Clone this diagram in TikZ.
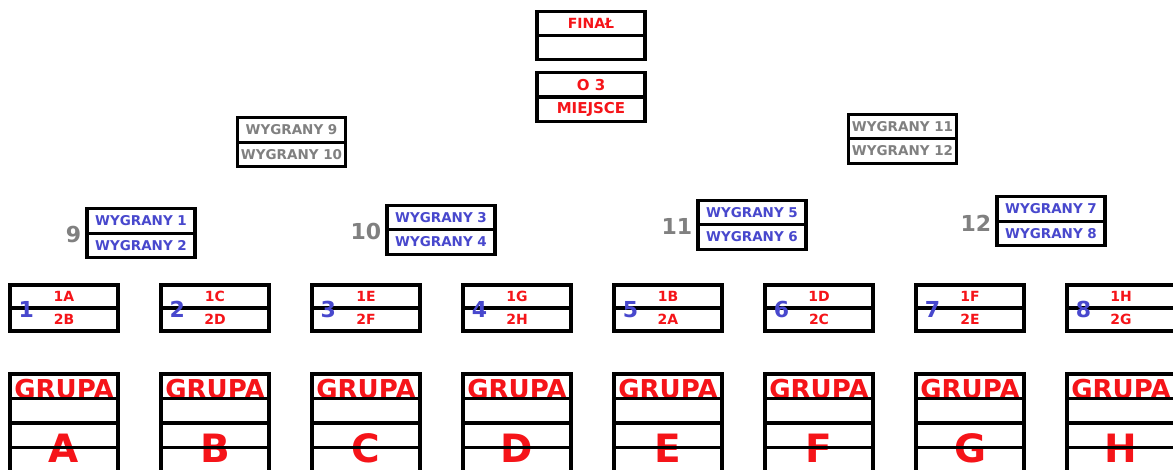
\documentclass[tikz,border=0pt]{standalone}
\usepackage{fontspec}
\setmainfont{DejaVu Sans}
\definecolor{tred}{RGB}{245,20,25}
\definecolor{tblue}{RGB}{72,72,205}
\definecolor{tgray}{RGB}{128,128,128}
\newcommand{\fs}[1]{\bfseries\fontsize{#1}{#1}\selectfont}

\begin{document}
\begin{tikzpicture}[x=1pt, y=-1pt,
  cell/.style={draw, line width=3.2pt, minimum width=108pt, minimum height=24.5pt, inner sep=0pt},
  redtxt/.style={text=tred, font=\fs{14}},
  bluetxt/.style={text=tblue, font=\fs{13.5}},
  graytxt/.style={text=tgray, font=\fs{13.5}},
  numlab/.style={font=\fs{22}, inner sep=0pt}]
  \clip (0,0) rectangle (1173,469);
  \fill[white] (0,0) rectangle (1173,469);

  % final and 3rd place
  \node[cell, redtxt] (fin1) at (591,23.5) {FINAŁ};
  \node[cell] (fin2) at (591,47.5) {};
  \node[cell, redtxt, font=\fs{15}] (third1) at (591,85) {O 3};
  \node[cell, redtxt, font=\fs{15}] (third2) at (591,109) {MIEJSCE};

  % semi finals
  \node[cell, graytxt] (sf1a) at (291.5,130) {WYGRANY 9};
  \node[cell, graytxt] (sf1b) at (291.5,154.5) {WYGRANY 10};
  \node[cell, graytxt] (sf2a) at (902.5,126.5) {WYGRANY 11};
  \node[cell, graytxt] (sf2b) at (902.5,151) {WYGRANY 12};

  % quarter finals
  \foreach \n/\x/\y/\p/\q in {9/141/221/1/2, 10/441/217.5/3/4, 11/752/212.5/5/6, 12/1051/209/7/8}{
    \node[cell, bluetxt] (qf\n a) at (\x,\y) {WYGRANY \p};
    \node[cell, bluetxt] (qf\n b) at (\x,\y+24.5) {WYGRANY \q};
    \node[numlab, text=tgray, anchor=east] (qf\n num) at ([xshift=-4pt]qf\n a.south west) {\n};
  }

  % round of 16
  \foreach \i/\a/\b in {1/1A/2B, 2/1C/2D, 3/1E/2F, 4/1G/2H, 5/1B/2A, 6/1D/2C, 7/1F/2E, 8/1H/2G}{
    \pgfmathsetmacro{\mx}{64+151*(\i-1)}
    \node[cell, redtxt, minimum height=23pt] (m\i a) at (\mx,296.5) {\a};
    \node[cell, redtxt, minimum height=23pt] (m\i b) at (\mx,319.5) {\b};
    \node[numlab, text=tblue] (m\i num) at ([xshift=18pt]m\i a.south west) {\i};
  }

  % groups
  \foreach \i/\g in {1/A, 2/B, 3/C, 4/D, 5/E, 6/F, 7/G, 8/H}{
    \pgfmathsetmacro{\gx}{64+151*(\i-1)}
    \node[text=tred, font=\fs{26}, inner sep=0pt, anchor=base] (g\g title) at (\gx,398.5) {GRUPA};
    \node[text=tred, font=\fs{39}, inner sep=0pt, anchor=base] (g\g name) at (\gx,462) {\g};
    \foreach \r in {0,1,2,3}
      \node[cell] (g\g c\r) at (\gx,386.25+24.5*\r) {};
  }
\end{tikzpicture}
\end{document}
